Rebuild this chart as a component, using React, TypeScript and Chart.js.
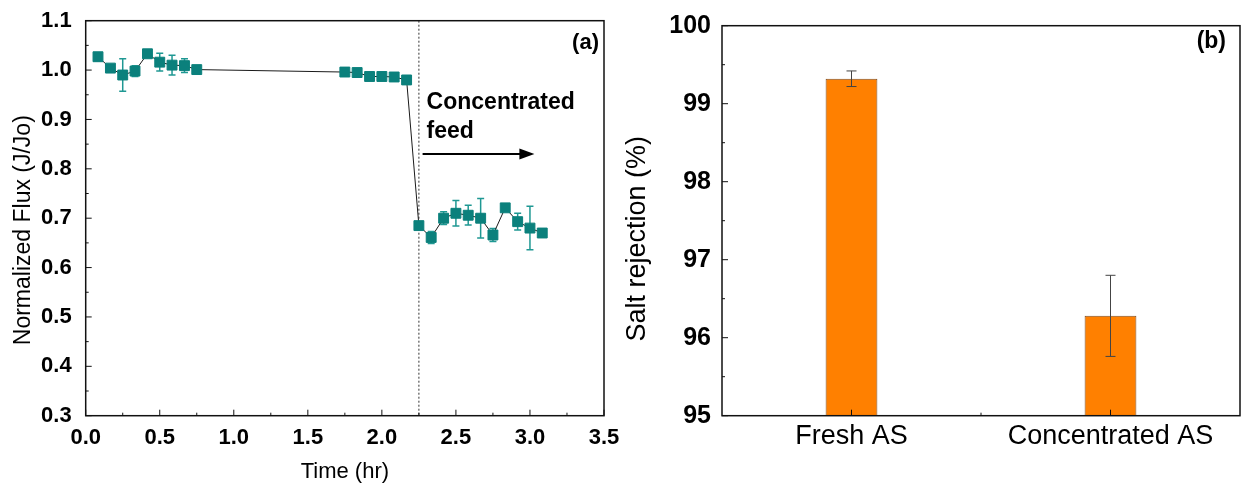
import React, { useEffect, useRef } from "react";
import { Chart, registerables } from "chart.js";

Chart.register(...registerables);

const FONT = "Arial, 'Liberation Sans', Helvetica, sans-serif";

// ---------- Panel (a): normalized flux vs time ----------
const timeHr = [
  0.083, 0.167, 0.25, 0.333, 0.417, 0.5, 0.583, 0.667, 0.75,
  1.75, 1.833, 1.917, 2.0, 2.083, 2.167,
  2.25, 2.333, 2.417, 2.5, 2.583, 2.667, 2.75, 2.833, 2.917, 3.0, 3.083,
];
const fluxNorm = [
  1.027, 1.004, 0.99, 0.998, 1.033, 1.016, 1.01, 1.009, 1.001,
  0.996, 0.995, 0.987, 0.987, 0.986, 0.98,
  0.685, 0.661, 0.7, 0.71, 0.706, 0.7, 0.666, 0.721, 0.693, 0.68, 0.67,
];
const fluxErr = [
  0.008, 0.004, 0.033, 0.011, 0.003, 0.018, 0.02, 0.014, 0.004,
  0.003, 0.003, 0.002, 0.002, 0.002, 0.003,
  0.004, 0.012, 0.013, 0.026, 0.02, 0.04, 0.013, 0.003, 0.017, 0.044, 0.003,
];
const timeAxis = { min: 0, max: 3.5, step: 0.5 };
const fluxAxis = { min: 0.3, max: 1.1, step: 0.1 };
const feedSwitchTime = 2.25;
const noteLines = ["Concentrated", "feed"];

// ---------- Panel (b): salt rejection ----------
const rejectionCategories = ["Fresh AS", "Concentrated AS"];
const rejectionValues = [99.32, 96.28];
const rejectionErr = [0.1, 0.52];
const rejectionAxis = { min: 95, max: 100, step: 1 };

const TEAL = "#0b807c";
const TEAL_ERR = "#1f9893";
const ORANGE = "#ff8000";

function drawInsideTicks(ctx: CanvasRenderingContext2D, area: any, axis: "x" | "y", majors: number[], minors: number[]) {
  ctx.beginPath();
  const put = (px: number, len: number) => {
    if (axis === "x") {
      ctx.moveTo(px, area.bottom);
      ctx.lineTo(px, area.bottom - len);
    } else {
      ctx.moveTo(area.left, px);
      ctx.lineTo(area.left + len, px);
    }
  };
  majors.forEach((p) => put(p, 6));
  minors.forEach((p) => put(p, 3));
  ctx.stroke();
}

function midpoints(arr: number[]) {
  const out: number[] = [];
  for (let i = 0; i < arr.length - 1; i++) out.push((arr[i] + arr[i + 1]) / 2);
  return out;
}

const panelAPlugin = {
  id: "panelA",
  beforeDatasetsDraw(chart: any) {
    const { ctx, chartArea: a, scales } = chart;
    const x = scales.x, y = scales.y;
    ctx.save();
    // dotted switch line
    const sx = x.getPixelForValue(feedSwitchTime);
    ctx.strokeStyle = "#333";
    ctx.lineWidth = 1;
    ctx.setLineDash([2, 2]);
    ctx.beginPath();
    ctx.moveTo(sx, a.top);
    ctx.lineTo(sx, a.bottom);
    ctx.stroke();
    ctx.setLineDash([]);
    // error bars
    ctx.strokeStyle = TEAL_ERR;
    ctx.lineWidth = 1.5;
    timeHr.forEach((t, i) => {
      const px = x.getPixelForValue(t);
      const top = y.getPixelForValue(fluxNorm[i] + fluxErr[i]);
      const bot = y.getPixelForValue(fluxNorm[i] - fluxErr[i]);
      ctx.beginPath();
      ctx.moveTo(px, top);
      ctx.lineTo(px, bot);
      ctx.moveTo(px - 3.5, top);
      ctx.lineTo(px + 3.5, top);
      ctx.moveTo(px - 3.5, bot);
      ctx.lineTo(px + 3.5, bot);
      ctx.stroke();
    });
    ctx.restore();
  },
  afterDraw(chart: any) {
    const { ctx, chartArea: a, scales } = chart;
    const x = scales.x, y = scales.y;
    ctx.save();
    ctx.strokeStyle = "#111";
    ctx.lineWidth = 1.5;
    ctx.strokeRect(a.left, a.top, a.right - a.left, a.bottom - a.top);
    ctx.lineWidth = 1;
    const xMaj = x.ticks.map((t: any) => x.getPixelForValue(t.value));
    const yMaj = y.ticks.map((t: any) => y.getPixelForValue(t.value));
    drawInsideTicks(ctx, a, "x", xMaj, midpoints(xMaj));
    drawInsideTicks(ctx, a, "y", yMaj, midpoints(yMaj));

    // annotation text
    ctx.fillStyle = "#000";
    ctx.font = `bold 23px ${FONT}`;
    ctx.textAlign = "left";
    ctx.textBaseline = "alphabetic";
    ctx.fillText(noteLines[0], x.getPixelForValue(2.302), y.getPixelForValue(0.9206));
    ctx.fillText(noteLines[1], x.getPixelForValue(2.302), y.getPixelForValue(0.862));
    // arrow
    const ay = y.getPixelForValue(0.83);
    const ax0 = x.getPixelForValue(2.275);
    const ax1 = x.getPixelForValue(3.03);
    ctx.strokeStyle = "#000";
    ctx.lineWidth = 2;
    ctx.beginPath();
    ctx.moveTo(ax0, ay);
    ctx.lineTo(ax1 - 12, ay);
    ctx.stroke();
    ctx.beginPath();
    ctx.moveTo(ax1, ay);
    ctx.lineTo(ax1 - 15, ay - 5.5);
    ctx.lineTo(ax1 - 15, ay + 5.5);
    ctx.closePath();
    ctx.fill();

    // panel label
    ctx.font = `bold 22px ${FONT}`;
    ctx.textAlign = "right";
    ctx.textBaseline = "middle";
    ctx.fillText("(a)", a.right - 5, a.top + 22);

    // y title
    ctx.font = `23px ${FONT}`;
    ctx.textAlign = "center";
    ctx.translate(a.left - 62.5, (a.top + a.bottom) / 2 + 12);
    ctx.rotate(-Math.PI / 2);
    ctx.fillText("Normalized Flux (J/Jo)", 0, 0);
    ctx.restore();
  },
};

const panelBPlugin = {
  id: "panelB",
  afterDatasetsDraw(chart: any) {
    const { ctx, scales } = chart;
    const x = scales.x, y = scales.y;
    ctx.save();
    ctx.strokeStyle = "#444";
    ctx.lineWidth = 1;
    rejectionValues.forEach((v, i) => {
      const px = x.getPixelForValue(i);
      const top = y.getPixelForValue(v + rejectionErr[i]);
      const bot = y.getPixelForValue(v - rejectionErr[i]);
      ctx.beginPath();
      ctx.moveTo(px, top);
      ctx.lineTo(px, bot);
      ctx.moveTo(px - 5, top);
      ctx.lineTo(px + 5, top);
      ctx.moveTo(px - 5, bot);
      ctx.lineTo(px + 5, bot);
      ctx.stroke();
    });
    ctx.restore();
  },
  afterDraw(chart: any) {
    const { ctx, chartArea: a, scales } = chart;
    const x = scales.x, y = scales.y;
    ctx.save();
    ctx.strokeStyle = "#111";
    ctx.lineWidth = 1.5;
    ctx.strokeRect(a.left, a.top, a.right - a.left, a.bottom - a.top);
    ctx.lineWidth = 1;
    const xMaj = rejectionCategories.map((_, i) => x.getPixelForValue(i));
    const yMaj = y.ticks.map((t: any) => y.getPixelForValue(t.value));
    drawInsideTicks(ctx, a, "x", xMaj, midpoints(xMaj));
    drawInsideTicks(ctx, a, "y", yMaj, midpoints(yMaj));

    ctx.fillStyle = "#000";
    ctx.font = `bold 23px ${FONT}`;
    ctx.textAlign = "right";
    ctx.textBaseline = "middle";
    ctx.fillText("(b)", a.right - 14, a.top + 16);

    ctx.font = `27px ${FONT}`;
    ctx.textAlign = "center";
    ctx.translate(a.left - 84, (a.top + a.bottom) / 2 + 18);
    ctx.rotate(-Math.PI / 2);
    ctx.fillText("Salt rejection (%)", 0, 0);
    ctx.restore();
  },
};

export default function App() {
  const refA = useRef<HTMLCanvasElement>(null);
  const refB = useRef<HTMLCanvasElement>(null);

  useEffect(() => {
    if (!refA.current || !refB.current) return;
    const chartA = new Chart(refA.current, {
      type: "line",
      data: {
        datasets: [
          {
            data: timeHr.map((t, i) => ({ x: t, y: fluxNorm[i] })),
            borderColor: "#1a1a1a",
            borderWidth: 1,
            pointStyle: "rect",
            pointRadius: 7,
            pointBackgroundColor: TEAL,
            pointBorderColor: TEAL,
            pointBorderWidth: 1,
            tension: 0,
          },
        ],
      },
      options: {
        responsive: false,
        animation: false,
        events: [],
        layout: { padding: { top: 20.7, right: 37, bottom: 0, left: 0 } },
        plugins: { legend: { display: false }, tooltip: { enabled: false } },
        scales: {
          x: {
            type: "linear",
            min: timeAxis.min,
            max: timeAxis.max,
            grid: { display: false, drawTicks: false },
            border: { display: false },
            ticks: {
              stepSize: timeAxis.step,
              color: "#000",
              padding: 9,
              maxRotation: 0,
              autoSkip: false,
              font: { family: FONT, size: 22, weight: "bold" },
              callback: (v: any) => Number(v).toFixed(1),
            },
            title: {
              display: true,
              text: "Time (hr)",
              color: "#000",
              font: { family: FONT, size: 22 },
              padding: { top: 0, bottom: 1 },
            },
            afterFit: (s: any) => {
              s.height = 70.3;
            },
          },
          y: {
            min: fluxAxis.min,
            max: fluxAxis.max,
            grid: { display: false, drawTicks: false },
            border: { display: false },
            ticks: {
              stepSize: fluxAxis.step,
              color: "#000",
              padding: 14,
              font: { family: FONT, size: 22, weight: "bold", lineHeight: 0.4 },
              callback: (v: any) => Number(v).toFixed(1),
            },
            afterFit: (s: any) => {
              s.width = 85.7;
            },
          },
        },
      },
      plugins: [panelAPlugin],
    } as any);

    const chartB = new Chart(refB.current, {
      type: "bar",
      data: {
        labels: rejectionCategories,
        datasets: [
          {
            data: rejectionValues,
            backgroundColor: ORANGE,
            borderColor: "#7e4c20",
            borderWidth: 1,
            borderSkipped: false,
            barPercentage: 0.2,
            categoryPercentage: 1,
          },
        ],
      },
      options: {
        responsive: false,
        animation: false,
        events: [],
        layout: { padding: { top: 25.7, right: 1, bottom: 0, left: 0 } },
        plugins: { legend: { display: false }, tooltip: { enabled: false } },
        scales: {
          x: {
            grid: { display: false, drawTicks: false },
            border: { display: false },
            ticks: {
              color: "#000",
              padding: 5,
              maxRotation: 0,
              font: { family: FONT, size: 27 },
            },
            afterFit: (s: any) => {
              s.height = 70.3;
            },
          },
          y: {
            min: rejectionAxis.min,
            max: rejectionAxis.max,
            grid: { display: false, drawTicks: false },
            border: { display: false },
            ticks: {
              stepSize: rejectionAxis.step,
              color: "#000",
              padding: 11,
              font: { family: FONT, size: 25, weight: "bold", lineHeight: 0.6 },
              callback: (v: any) => String(v),
            },
            afterFit: (s: any) => {
              s.width = 102;
            },
          },
        },
      },
      plugins: [panelBPlugin],
    } as any);

    return () => {
      chartA.destroy();
      chartB.destroy();
    };
  }, []);

  return (
    <div
      style={{
        position: "fixed",
        left: 0,
        top: 0,
        width: 1241,
        height: 486,
        background: "#fff",
        overflow: "hidden",
      }}
    >
      <canvas ref={refA} width={641} height={486} style={{ position: "absolute", left: 0, top: 0 }} />
      <canvas ref={refB} width={621} height={486} style={{ position: "absolute", left: 620, top: 0 }} />
    </div>
  );
}
